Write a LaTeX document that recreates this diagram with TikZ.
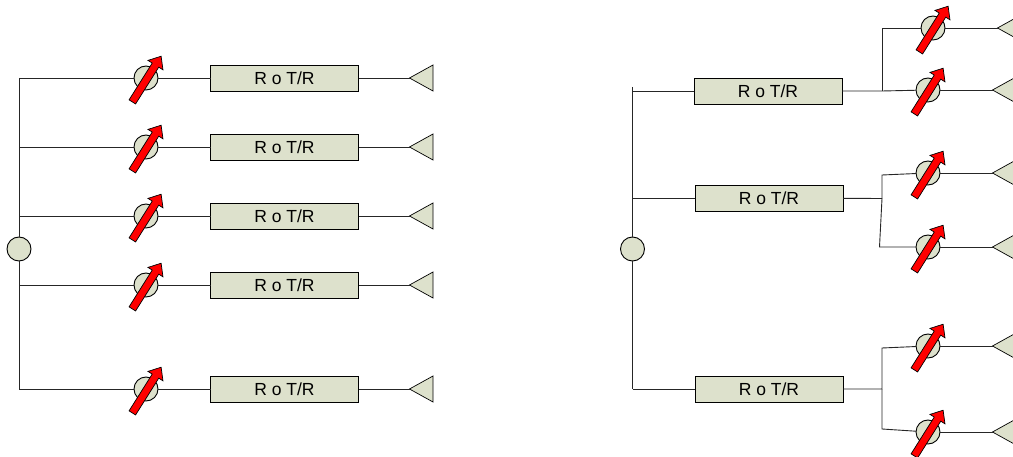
\documentclass[tikz,border=0pt]{standalone}
\usepackage{fontspec}
\setmainfont{Liberation Sans}
\usetikzlibrary{shapes.geometric,shapes.arrows}
\definecolor{unitfill}{HTML}{DDE1CC}
\tikzset{
  wire/.style={line width=.9pt, draw=black!85},
  root/.style={circle, draw, line width=.9pt, fill=unitfill, minimum size=24pt, inner sep=0pt, outer sep=0pt},
  shifter/.style={circle, draw, line width=.9pt, fill=unitfill, minimum size=24pt, inner sep=0pt, outer sep=0pt},
  rotr/.style={rectangle, draw, line width=.9pt, fill=unitfill, minimum width=148pt, minimum height=26pt, inner sep=0pt, outer sep=0pt, font=\fontsize{17.5}{19}\selectfont},
  antenna/.style={isosceles triangle, isosceles triangle stretches, shape border rotate=180, draw, line width=.7pt, fill=unitfill, minimum height=23.5pt, minimum width=26pt, inner sep=0pt, outer sep=0pt, anchor=apex},
  tune/.style={single arrow, draw=black, line width=.7pt, fill=red, minimum height=54pt, single arrow head extend=5pt, single arrow tip angle=80, inner xsep=0pt, inner ysep=3.5pt, outer sep=0pt, rotate=57.8}
}

\begin{document}
\begin{tikzpicture}[x=1pt, y=-1pt]
   \useasboundingbox (0, 0) rectangle (1013, 457);

   % left tree
   \node [root] (la) at (19, 249) {};
   \coordinate (la1) at (19, 78);
   \coordinate (la5) at (19, 389);
   \coordinate (la2) at (19, 147);
   \coordinate (la3) at (19, 216);
   \coordinate (la4) at (19, 285);
   \draw [wire] (la1) -- (la);
   \draw [wire] (la) -- (la5);

   \node [shifter] (lp1) at (146, 78) {};
   \node [shifter] (lp2) at (146, 147) {};
   \node [shifter] (lp3) at (146, 216) {};
   \node [shifter] (lp4) at (146, 285) {};
   \node [shifter] (lp5) at (146, 389) {};
   \node [rotr] (lr1) at (284.5, 78) {R o T/R};
   \node [rotr] (lr2) at (284.5, 147) {R o T/R};
   \node [rotr] (lr3) at (284.5, 216) {R o T/R};
   \node [rotr] (lr4) at (284.5, 285) {R o T/R};
   \node [rotr] (lr5) at (284.5, 389) {R o T/R};
   \node [antenna] (lt1) at (409.5, 78) {};
   \node [antenna] (lt2) at (409.5, 147) {};
   \node [antenna] (lt3) at (409.5, 216) {};
   \node [antenna] (lt4) at (409.5, 285) {};
   \node [antenna] (lt5) at (409.5, 389) {};

   \draw [wire] (la1) -- (lp1) (lp1) -- (lr1) (lr1) -- (lt1.apex);
   \draw [wire] (la2) -- (lp2) (lp2) -- (lr2) (lr2) -- (lt2.apex);
   \draw [wire] (la3) -- (lp3) (lp3) -- (lr3) (lr3) -- (lt3.apex);
   \draw [wire] (la4) -- (lp4) (lp4) -- (lr4) (lr4) -- (lt4.apex);
   \draw [wire] (la5) -- (lp5) (lp5) -- (lr5) (lr5) -- (lt5.apex);

   \node [tune] (lu1) at (145.5, 81) {};
   \node [tune] (lu2) at (145.5, 150) {};
   \node [tune] (lu3) at (145.5, 219) {};
   \node [tune] (lu4) at (145.5, 288) {};
   \node [tune] (lu5) at (145.5, 392) {};

   % right tree
   \node [root] (ra) at (632.5, 249) {};
   \coordinate (ra0) at (632.5, 87);
   \coordinate (ra1) at (632.5, 91);
   \coordinate (ra2) at (632.5, 198);
   \coordinate (ra3) at (632.5, 389);
   \draw [wire] (ra0) -- (ra);
   \draw [wire] (ra) -- (ra3);

   \node [rotr] (rr1) at (768, 91) {R o T/R};
   \node [rotr] (rr2) at (769, 198) {R o T/R};
   \node [rotr] (rr3) at (769, 389) {R o T/R};
   \draw [wire] (ra1) -- (rr1);
   \draw [wire] (ra2) -- (rr2);
   \draw [wire] (ra3) -- (rr3);

   \node [shifter] (rp1) at (933, 28) {};
   \node [shifter] (rp2) at (928, 90) {};
   \node [shifter] (rp3) at (928, 173) {};
   \node [shifter] (rp4) at (928, 247) {};
   \node [shifter] (rp5) at (928, 346) {};
   \node [shifter] (rp6) at (928, 432) {};
   \node [antenna] (rt1) at (997.5, 28) {};
   \node [antenna] (rt2) at (992.5, 90) {};
   \node [antenna] (rt3) at (992.5, 173) {};
   \node [antenna] (rt4) at (992.5, 247) {};
   \node [antenna] (rt5) at (992.5, 346) {};
   \node [antenna] (rt6) at (992.5, 432) {};

   % splits
   \coordinate (rb1) at (882, 91);
   \coordinate (rb1u) at (882, 28);
   \coordinate (rb2) at (882, 198.5);
   \coordinate (rb2u) at (882, 175);
   \coordinate (rb2d) at (879.5, 247);
   \coordinate (rb3) at (882, 389);
   \coordinate (rb3u) at (882, 348);
   \coordinate (rb3d) at (882, 429);
   \draw [wire] (rr1) -- (rb1) -- (rp2);
   \draw [wire] (rb1) -- (rb1u) -- (rp1);
   \draw [wire] (rr2) -- (rb2) -- (rb2u) -- (rp3);
   \draw [wire] (rb2) -- (rb2d) -- (rp4);
   \draw [wire] (rr3) -- (rb3) -- (rb3u) -- (rp5);
   \draw [wire] (rb3) -- (rb3d) -- (rp6);
   \draw [wire] (rp1) -- (rt1.apex);
   \draw [wire] (rp2) -- (rt2.apex);
   \draw [wire] (rp3) -- (rt3.apex);
   \draw [wire] (rp4) -- (rt4.apex);
   \draw [wire] (rp5) -- (rt5.apex);
   \draw [wire] (rp6) -- (rt6.apex);

   \node [tune] (ru1) at (932.5, 31) {};
   \node [tune] (ru2) at (927.5, 93) {};
   \node [tune] (ru3) at (927.5, 176) {};
   \node [tune] (ru4) at (927.5, 250) {};
   \node [tune] (ru5) at (927.5, 349) {};
   \node [tune] (ru6) at (927.5, 435) {};
\end{tikzpicture}
\end{document}
